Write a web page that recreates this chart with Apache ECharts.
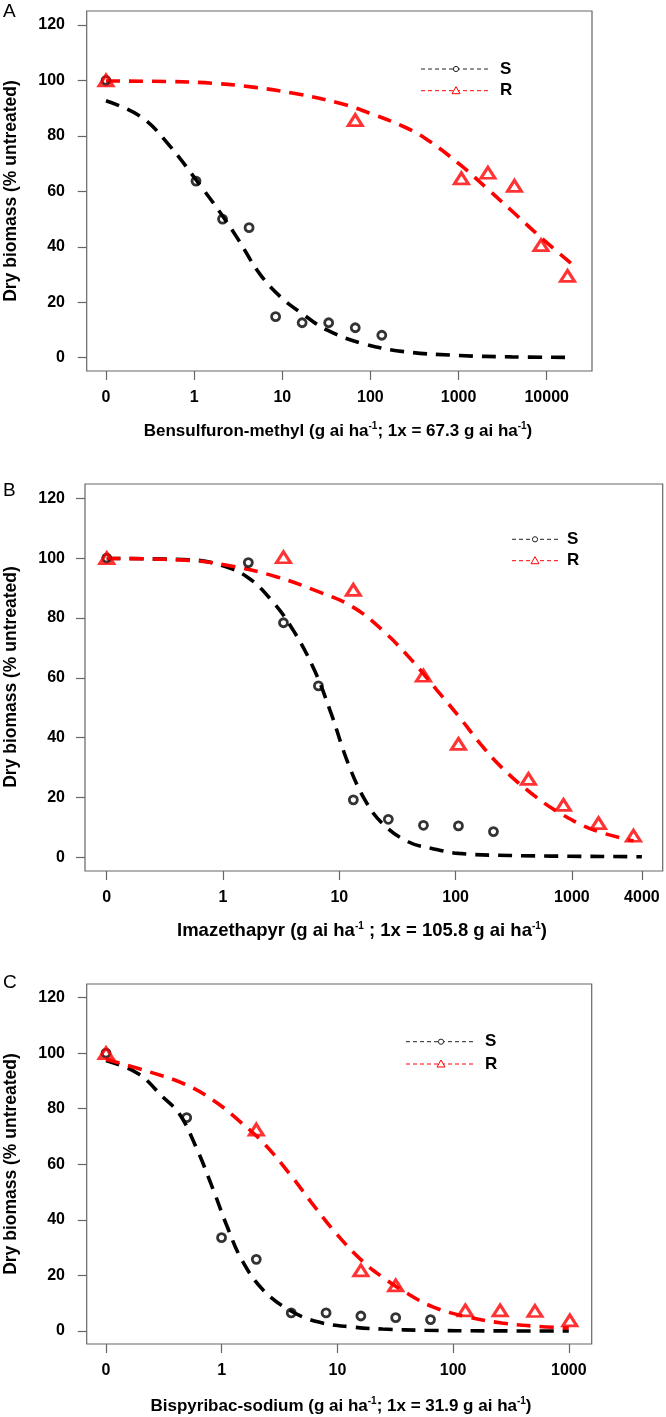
<!DOCTYPE html>
<html>
<head>
<meta charset="utf-8">
<script src="https://cdn.jsdelivr.net/npm/echarts@6/dist/echarts.min.js"></script>
<style>html,body{margin:0;padding:0;background:#fff}#c{width:666px;height:1417px}</style>
</head>
<body>
<div id="c"></div>
<script>
// dose 0 is drawn at the position of 0.1 on the log dose axis
const ZERO_DOSE = 0.1;

// ---------- Panel A: Bensulfuron-methyl ----------
const aDoseS = [0, 1.05, 2.1, 4.2, 8.4, 16.8, 33.6, 67.3, 134.6];
const aValS  = [100, 63.7, 50.0, 46.9, 14.8, 12.6, 12.6, 10.8, 8.1];
const aDoseR = [0, 67.3, 1077, 2154, 4307, 8614, 17229];
const aValR  = [100, 85.7, 64.7, 66.7, 62.0, 40.6, 29.5];
const aCurveDoseS = [0.1, 0.25, 0.5, 1.2, 2, 3.2, 5.5, 9.5, 16.6, 32, 80, 240, 1000, 4000, 17000];
const aCurveValS  = [92.7, 86.9, 77.3, 61.7, 52.1, 42.4, 30.4, 22.0, 16.0, 10.0, 5.2, 2.2, 0.8, 0.3, 0.1];
const aCurveDoseR = [0.1, 0.54, 1.6, 4.9, 15, 46, 100, 240, 420, 1000, 2200, 4300, 9300, 20000];
const aCurveValR  = [99.8, 99.6, 99.0, 97.5, 95.1, 91.7, 88.1, 83.3, 79.1, 70.1, 60.5, 52.1, 42.4, 33.4];
const aTickDoses  = [0, 1, 10, 100, 1000, 10000];
const aTickLabels = ['0', '1', '10', '100', '1000', '10000'];

// ---------- Panel B: Imazethapyr ----------
const bDoseS = [0, 1.65, 3.31, 6.61, 13.2, 26.4, 52.9, 105.8, 211.6];
const bValS  = [100, 98.5, 78.4, 57.3, 19.2, 12.7, 10.7, 10.5, 8.6];
const bDoseR = [0, 3.31, 13.2, 52.9, 105.8, 423, 846, 1693, 3386];
const bValR  = [100, 100.3, 89.4, 60.7, 37.9, 26.2, 17.5, 11.4, 7.2];
const bCurveDoseS = [0.1, 0.54, 0.95, 1.6, 2.6, 4.0, 6.1, 8.5, 11.9, 16.6, 23.4, 39, 65, 107, 290, 4000];
const bCurveValS  = [99.9, 99.4, 97.7, 93.8, 86.0, 76.0, 62.6, 48.1, 31.4, 19.2, 11.4, 5.2, 2.8, 1.3, 0.6, 0.2];
const bCurveDoseR = [0.1, 0.54, 1.23, 2.86, 6.6, 12.9, 23.4, 41.7, 69, 107, 162, 245, 447, 794, 1550, 3390];
const bCurveValR  = [99.9, 99.2, 97.2, 93.8, 88.8, 83.8, 76.0, 66.0, 55.9, 47.0, 38.1, 30.3, 21.4, 14.7, 9.1, 5.5];
const bTickDoses  = [0, 1, 10, 100, 1000, 4000];
const bTickLabels = ['0', '1', '10', '100', '1000', '4000'];

// ---------- Panel C: Bispyribac-sodium ----------
const cDoseS = [0, 0.498, 0.997, 1.99, 3.99, 7.98, 15.95, 31.9, 63.8];
const cValS  = [100, 76.8, 33.6, 25.8, 6.5, 6.5, 5.4, 4.8, 4.1];
const cDoseR = [0, 1.99, 15.95, 31.9, 127.6, 255, 510, 1021];
const cValR  = [100, 72.5, 21.8, 16.4, 7.4, 7.4, 7.2, 3.8];
const cCurveDoseS = [0.1, 0.19, 0.31, 0.43, 0.6, 0.85, 1.09, 1.5, 2.3, 3.9, 6.9, 13.8, 24.5, 57.5, 200, 1000];
const cCurveValS  = [97.4, 92.6, 84.2, 78.2, 66.2, 50.6, 38.6, 25.4, 14.6, 7.4, 3.2, 1.4, 0.7, 0.25, 0.05, 0];
const cCurveDoseR = [0.1, 0.24, 0.47, 0.85, 1.4, 2.33, 3.86, 6.4, 9.8, 16.2, 24.5, 40.7, 67.6, 135, 263, 525, 1000];
const cCurveValR  = [97.8, 93.2, 89.0, 83.0, 75.8, 67.4, 56.6, 44.6, 35.0, 25.4, 19.4, 13.4, 8.6, 5.0, 2.9, 1.7, 1.1];
const cTickDoses  = [0, 1, 10, 100, 1000];
const cTickLabels = ['0', '1', '10', '100', '1000'];

const yTicks = [0, 20, 40, 60, 80, 100, 120];
const seriesNames = ['S', 'R'];

// ---------- helpers ----------
const FONT = "'Liberation Sans', Arial, Helvetica, sans-serif";
const RED = '#ff0000';
const pos = d => Math.log10(d === 0 ? ZERO_DOSE : d);
const pairs = (ds, vs) => ds.map((d, i) => [pos(d), vs[i]]);

const panels = [
  { grid: {left: 86.7, top: 11, width: 505.3, height: 360}, xr: [-1.219, 4.514], yr: [-4.8, 125.05],
    S: [aDoseS, aValS], R: [aDoseR, aValR], cS: [aCurveDoseS, aCurveValS], cR: [aCurveDoseR, aCurveValR],
    ticks: aTickDoses, labels: aTickLabels, ym: 21.7 },
  { grid: {left: 85, top: 484, width: 577.7, height: 387}, xr: [-1.187, 3.781], yr: [-4.58, 124.78],
    S: [bDoseS, bValS], R: [bDoseR, bValR], cS: [bCurveDoseS, bCurveValS], cR: [bCurveDoseR, bCurveValR],
    ticks: bTickDoses, labels: bTickLabels, ym: 20 },
  { grid: {left: 86.7, top: 984, width: 505, height: 360}, xr: [-1.167, 3.198], yr: [-4.68, 124.9],
    S: [cDoseS, cValS], R: [cDoseR, cValR], cS: [cCurveDoseS, cCurveValS], cR: [cCurveDoseR, cCurveValR],
    ticks: cTickDoses, labels: cTickLabels, ym: 21.7 }
];

const grid = [], xAxis = [], yAxis = [], series = [];
panels.forEach((p, i) => {
  grid.push(Object.assign({show: true, borderColor: '#666', borderWidth: 1.2, backgroundColor: '#fff'}, p.grid));
  const tickPos = p.ticks.map(pos);
  xAxis.push({
    type: 'value', gridIndex: i, min: p.xr[0], max: p.xr[1], position: 'bottom',
    axisLine: {show: false, onZero: false}, splitLine: {show: false},
    axisTick: {show: true, length: 9, customValues: tickPos, lineStyle: {color: '#666', width: 1.2}},
    axisLabel: {
      customValues: tickPos, margin: 19, color: '#000', fontFamily: FONT, fontWeight: 'bold', fontSize: 16,
      formatter: v => { const k = tickPos.findIndex(t => Math.abs(t - v) < 1e-6); return k >= 0 ? p.labels[k] : ''; }
    }
  });
  yAxis.push({
    type: 'value', gridIndex: i, min: p.yr[0], max: p.yr[1], position: 'left',
    axisLine: {show: false, onZero: false}, splitLine: {show: false},
    axisTick: {show: true, length: 9, customValues: yTicks, lineStyle: {color: '#666', width: 1.2}},
    axisLabel: {customValues: yTicks, margin: p.ym, color: '#000', fontFamily: FONT, fontWeight: 'bold', fontSize: 16}
  });
  const dash = {width: 3.6, type: [14, 9], cap: 'butt'};
  series.push({
    name: seriesNames[0] + ' fit', type: 'line', xAxisIndex: i, yAxisIndex: i, data: pairs(p.cS[0], p.cS[1]),
    showSymbol: false, smooth: 0.4, lineStyle: Object.assign({color: '#000'}, dash), z: 3, silent: true
  });
  series.push({
    name: seriesNames[1] + ' fit', type: 'line', xAxisIndex: i, yAxisIndex: i, data: pairs(p.cR[0], p.cR[1]),
    showSymbol: false, smooth: 0.4, lineStyle: Object.assign({color: RED}, dash), z: 3, silent: true
  });
  series.push({
    name: seriesNames[0], type: 'scatter', xAxisIndex: i, yAxisIndex: i, data: pairs(p.S[0], p.S[1]),
    symbol: 'circle', symbolSize: 8,
    itemStyle: {color: 'rgba(255,255,255,0)', borderColor: '#000', borderWidth: 2.8}, z: 4
  });
  series.push({
    name: seriesNames[1], type: 'scatter', xAxisIndex: i, yAxisIndex: i, data: pairs(p.R[0], p.R[1]),
    symbol: 'triangle', symbolSize: [14, 11],
    itemStyle: {color: 'rgba(255,255,255,0)', borderColor: RED, borderWidth: 3}, z: 5
  });
});

// ---------- annotations: panel letters, axis titles, legends ----------
const titleStyle = (text, x, y, fs) => ({
  type: 'text', x: x, y: y, z: 10,
  style: {
    text: text, align: 'center', verticalAlign: 'middle', fill: '#000',
    fontFamily: FONT, fontWeight: 'bold', fontSize: fs,
    rich: {
      n: {fontFamily: FONT, fontWeight: 'bold', fontSize: fs, lineHeight: 20, fill: '#000'},
      s: {fontFamily: FONT, fontWeight: 'bold', fontSize: 10, lineHeight: 10, verticalAlign: 'top', fill: '#000'}
    }
  }
});
const ytitle = (y) => ({
  type: 'text', x: 11, y: y, rotation: Math.PI / 2, z: 10,
  style: {text: 'Dry biomass (% untreated)', align: 'center', verticalAlign: 'middle', fill: '#000',
          fontFamily: FONT, fontWeight: 'bold', fontSize: 17.5}
});
const letter = (t, y) => ({
  type: 'text', x: 3, y: y, z: 10,
  style: {text: t, align: 'left', verticalAlign: 'middle', fill: '#000', fontFamily: FONT, fontSize: 19}
});
const legend = (x0, x1, yS, yR) => {
  const xm = (x0 + x1) / 2;
  const ld = {lineWidth: 1, lineDash: [4, 3]};
  return [
    {type: 'line', z: 10, shape: {x1: x0, y1: yS, x2: x1, y2: yS}, style: Object.assign({stroke: '#222'}, ld)},
    {type: 'circle', z: 11, shape: {cx: xm, cy: yS, r: 2.6}, style: {fill: '#fff', stroke: '#222', lineWidth: 1}},
    {type: 'line', z: 10, shape: {x1: x0, y1: yR, x2: x1, y2: yR}, style: Object.assign({stroke: RED}, ld)},
    {type: 'polygon', z: 11, shape: {points: [[xm - 4, yR + 3], [xm + 4, yR + 3], [xm, yR - 4]]},
     style: {fill: '#fff', stroke: RED, lineWidth: 1}},
    {type: 'text', z: 10, x: x1 + 9, y: yS, style: {text: seriesNames[0], verticalAlign: 'middle', fill: '#000', fontFamily: FONT, fontWeight: 'bold', fontSize: 17}},
    {type: 'text', z: 10, x: x1 + 9, y: yR, style: {text: seriesNames[1], verticalAlign: 'middle', fill: '#000', fontFamily: FONT, fontWeight: 'bold', fontSize: 17}}
  ];
};

const graphic = [
  letter('A', 12), letter('B', 491), letter('C', 983),
  ytitle(191), ytitle(677), ytitle(1164),
  titleStyle('{n|Bensulfuron-methyl (g ai ha}{s|-1}{n|; 1x = 67.3 g ai ha}{s|-1}{n|)}', 338, 431, 17),
  titleStyle('{n|Imazethapyr (g ai ha}{s|-1}{n| ; 1x = 105.8 g ai ha}{s|-1}{n|)}', 362, 931, 18.5),
  titleStyle('{n|Bispyribac-sodium (g ai ha}{s|-1}{n|; 1x = 31.9 g ai ha}{s|-1}{n|)}', 341, 1406, 17)
].concat(legend(421, 491, 69, 90.7), legend(512, 558, 539.3, 560.7), legend(406, 476, 1041.7, 1064));

const chart = echarts.init(document.getElementById('c'), null, {renderer: 'canvas'});
chart.setOption({
  animation: false,
  backgroundColor: '#fff',
  grid: grid, xAxis: xAxis, yAxis: yAxis, series: series, graphic: graphic
});
</script>
</body>
</html>
